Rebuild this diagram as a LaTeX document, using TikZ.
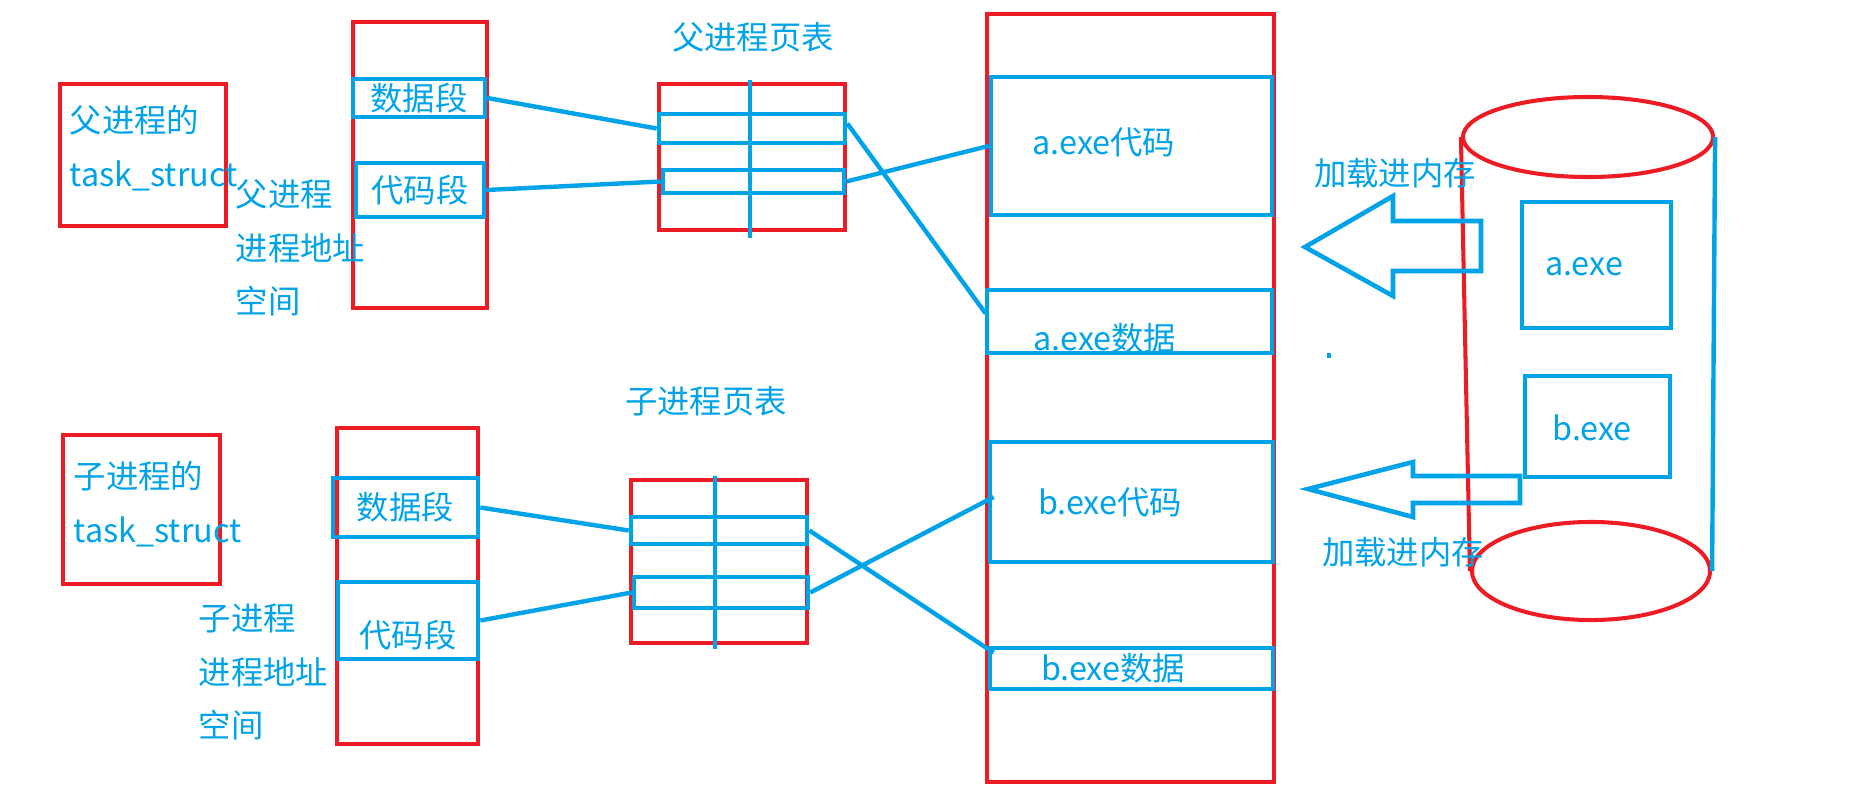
\documentclass[tikz,border=0pt]{standalone}
\usepackage{fontspec}
\setmainfont{Noto Sans CJK SC}
\usepackage{xcolor}
\definecolor{PaintRed}{RGB}{237,28,36}
\definecolor{PaintBlue}{RGB}{0,162,232}
\usepackage{tikz}
\usetikzlibrary{shapes.geometric, calc, positioning}
\tikzset{
  % red frame (task_struct, address space, page table, memory)
  redbox/.style={
    rectangle, draw=PaintRed, line width=1.15pt,
    inner sep=0pt
  },
  % blue segment box
  bluebox/.style={
    rectangle, draw=PaintBlue, line width=1.3pt,
    inner sep=0pt, text=PaintBlue,
    font=\fontsize{9.2pt}{15.3pt}\selectfont
  },
  % plain blue text
  txt/.style={
    text=PaintBlue, inner sep=0pt, align=left,
    font=\fontsize{9.2pt}{15.3pt}\selectfont
  },
  % connectors
  lnk/.style={draw=PaintBlue, line width=1.25pt},
  % hollow load arrow
  blockarr/.style={draw=PaintBlue, line width=1.3pt, line join=miter},
  % disk ends
  diskend/.style={ellipse, draw=PaintRed, line width=1.15pt, inner sep=0pt},
}

\begin{document}
\begin{tikzpicture}[x=0.01cm, y=-0.01cm]

  \useasboundingbox (0,0) rectangle (1870,800);

  %% Parent process (top left)
  \node[redbox, minimum width=1.66cm, minimum height=1.42cm] (ptask) at (143,155) {};
  \node[txt, anchor=west] (ptasktxt) at (69,148) {父进程的\\task\_struct};

  \node[redbox, minimum width=1.33cm, minimum height=2.85cm] (paddr) at (420,165) {};
  \node[bluebox, minimum width=1.32cm, minimum height=0.38cm] (pdata) at (419,98) {数据段};
  \node[bluebox, minimum width=1.28cm, minimum height=0.54cm] (pcode) at (420,190) {代码段};
  \node[txt, anchor=west] (paddrtxt) at (235,248) {父进程\\进程地址\\空间};

  %% Parent page table
  \node[txt] (ppttitle) at (753,37) {父进程页表};
  \node[redbox, minimum width=1.86cm, minimum height=1.46cm] (ppt) at (752,157) {};
  \node[bluebox, minimum width=1.86cm, minimum height=0.29cm] (prow1) at (752,128.5) {};
  \node[bluebox, minimum width=1.81cm, minimum height=0.23cm] (prow2) at (753.5,181.5) {};
  \draw[lnk] ($(ppt.north)+(-2,-2)$) -- ($(ppt.south)+(-2,6)$);

  %% Child process (bottom left)
  \node[redbox, minimum width=1.57cm, minimum height=1.49cm] (ctask) at (141.5,509.5) {};
  \node[txt, anchor=west] (ctasktxt) at (73,504) {子进程的\\task\_struct};

  \node[redbox, minimum width=1.41cm, minimum height=3.16cm] (caddr) at (407.5,586) {};
  \node[bluebox, minimum width=1.45cm, minimum height=0.59cm] (cdata) at (405.5,507.5) {数据段};
  \node[bluebox, minimum width=1.40cm, minimum height=0.77cm] (ccode) at (408,620.5) {};
  \node[txt] (ccodetxt) at (408,635) {代码段};
  \node[txt, anchor=west] (caddrtxt) at (198,672) {子进程\\进程地址\\空间};

  %% Child page table
  \node[txt] (cpttitle) at (706,401) {子进程页表};
  \node[redbox, minimum width=1.76cm, minimum height=1.63cm] (cpt) at (719,561.5) {};
  \node[bluebox, minimum width=1.76cm, minimum height=0.27cm] (crow1) at (719,530.5) {};
  \node[bluebox, minimum width=1.74cm, minimum height=0.31cm] (crow2) at (721,592.5) {};
  \draw[lnk] ($(cpt.north)+(-4,-2)$) -- ($(cpt.south)+(-4,4)$);

  %% Physical memory
  \node[redbox, minimum width=2.87cm, minimum height=7.68cm] (mem) at (1130.5,398) {};
  \node[bluebox, minimum width=2.81cm, minimum height=1.38cm] (acode) at (1131.5,146) {};
  \node[bluebox, minimum width=2.85cm, minimum height=0.63cm] (adata) at (1129.5,321.5) {};
  \node[bluebox, minimum width=2.83cm, minimum height=1.20cm] (bcode) at (1131.5,502) {};
  \node[bluebox, minimum width=2.83cm, minimum height=0.41cm] (bdata) at (1131.5,668.5) {};
  \node[txt] (acodetxt) at (1104,142) {a.exe代码};
  \node[txt] (adatatxt) at (1105,338) {a.exe数据};
  \node[txt] (bcodetxt) at (1110,502) {b.exe代码};
  \node[txt] (bdatatxt) at (1113,668) {b.exe数据};

  %% Disk
  \node[diskend, minimum width=2.50cm, minimum height=0.80cm] (disktop) at (1588,137) {};
  \node[diskend, minimum width=2.38cm, minimum height=0.98cm] (diskbot) at (1591,571) {};
  \draw[draw=PaintRed, line width=1.15pt] (disktop.west) -- (diskbot.west);
  \draw[lnk] (disktop.east) -- (diskbot.east);
  \node[bluebox, minimum width=1.49cm, minimum height=1.26cm] (afile) at (1596.5,265) {};
  \node[bluebox, minimum width=1.45cm, minimum height=1.01cm] (bfile) at (1597.5,426.5) {};
  \node[txt] (afiletxt) at (1584,267) {a.exe};
  \node[txt] (bfiletxt) at (1592,428) {b.exe};

  %% Load arrows
  \draw[blockarr] (1305,247) -- (1393,196) -- (1393,221) -- (1481,221)
    -- (1481,271) -- (1393,271) -- (1393,296) -- cycle;
  \draw[blockarr] (1308,489) -- (1413,462) -- (1413,476) -- (1520,476)
    -- (1520,503) -- (1413,503) -- (1413,517) -- cycle;
  \node[txt] (load1) at (1395,173) {加载进内存};
  \node[txt] (load2) at (1403,552) {加载进内存};
  \fill[PaintBlue] (1327,353) rectangle (1331,358);

  %% Segment to page table
  \draw[lnk] (pdata.east) -- (prow1.west);
  \draw[lnk] (pcode.east) -- (prow2.west);
  \draw[lnk] (cdata.east) -- (crow1.west);
  \draw[lnk] (ccode.east) -- (crow2.west);

  %% Page table to memory
  \draw[lnk] ($(prow1.east)+(0,-5)$) -- ($(adata.west)+(1,-8)$);
  \draw[lnk] (prow2.east) -- (acode.west);
  \draw[lnk] (crow1.east) -- ($(bdata.north west)+(6,7)$);
  \draw[lnk] (crow2.east) -- ($(bcode.west)+(6,-5)$);

\end{tikzpicture}
\end{document}
